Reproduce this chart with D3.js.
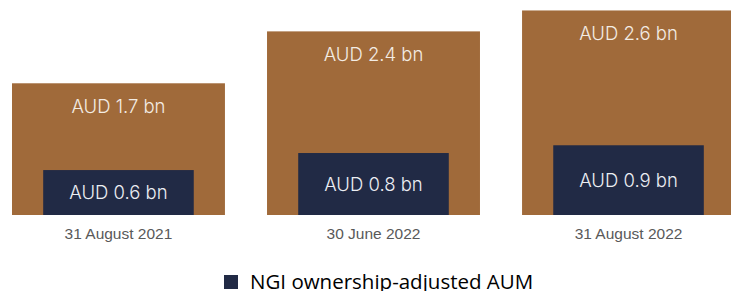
<!DOCTYPE html>
<html>
<head>
<meta charset="utf-8">
<title>AUM</title>
<script src="https://d3js.org/d3.v7.min.js"></script>
<style>
  body { margin: 0; background: #fff; }
  svg { display: block; }
</style>
</head>
<body>
<div id="chart"></div>
<script>
// data (bn AUD)
var categories = ["31 August 2021", "30 June 2022", "31 August 2022"];
var totalAUM = [1.70, 2.37, 2.64];
var adjustedAUM = [0.58, 0.80, 0.90];
var legendLabel = "NGI ownership-adjusted AUM";

var width = 731, height = 291;
var baseline = 215;
var brown = "#a06a3a", navy = "#212a45";

var svg = d3.select("#chart").append("svg")
  .attr("width", width)
  .attr("height", height);

var x = d3.scaleBand()
  .domain(categories)
  .range([12, 735])
  .paddingInner(0.165)
  .paddingOuter(0);

var y = d3.scaleLinear()
  .domain([0, 2.775])
  .range([baseline, 0]);

var innerW = x.bandwidth() * 0.707;
var fmt = v => "AUD " + v.toFixed(1) + " bn";

// big bars (total)
svg.selectAll(".total")
  .data(categories)
  .join("rect")
  .attr("class", "total")
  .attr("x", d => x(d))
  .attr("y", (d, i) => y(totalAUM[i]))
  .attr("width", x.bandwidth())
  .attr("height", (d, i) => y(0) - y(totalAUM[i]))
  .attr("fill", brown);

// inner bars (ownership-adjusted)
svg.selectAll(".adj")
  .data(categories)
  .join("rect")
  .attr("class", "adj")
  .attr("x", d => x(d) + (x.bandwidth() - innerW) / 2)
  .attr("y", (d, i) => y(adjustedAUM[i]))
  .attr("width", innerW)
  .attr("height", (d, i) => y(0) - y(adjustedAUM[i]))
  .attr("fill", navy);

var labelFont = "Inter, 'Liberation Sans', sans-serif";

svg.selectAll(".totalLabel")
  .data(categories)
  .join("text")
  .attr("class", "totalLabel")
  .attr("x", d => x(d) + x.bandwidth() / 2)
  .attr("y", (d, i) => y(totalAUM[i]) + 30)
  .attr("text-anchor", "middle")
  .style("font-family", labelFont)
  .style("font-weight", 300)
  .style("font-size", "18.5px")
  .attr("fill", "#f3ece4")
  .text((d, i) => fmt(totalAUM[i]));

svg.selectAll(".adjLabel")
  .data(categories)
  .join("text")
  .attr("class", "adjLabel")
  .attr("x", d => x(d) + x.bandwidth() / 2)
  .attr("y", (d, i) => (y(adjustedAUM[i]) + y(0)) / 2 + 6.5)
  .attr("text-anchor", "middle")
  .style("font-family", labelFont)
  .style("font-weight", 300)
  .style("font-size", "18.5px")
  .attr("fill", "#eceef3")
  .text((d, i) => fmt(adjustedAUM[i]));

// category axis (no line, only labels)
var xAxis = svg.append("g")
  .attr("transform", "translate(0," + baseline + ")")
  .call(d3.axisBottom(x).tickSize(0).tickPadding(13));
xAxis.select(".domain").remove();
xAxis.selectAll("text")
  .style("font-family", "'Liberation Sans', Arial, sans-serif")
  .style("font-size", "15.5px")
  .attr("fill", "#595959");

// legend
var legend = svg.append("g").attr("transform", "translate(224,275)");
legend.append("rect")
  .attr("width", 14)
  .attr("height", 14)
  .attr("fill", navy);
legend.append("text")
  .attr("x", 26)
  .attr("y", 14)
  .style("font-family", "'Open Sans', sans-serif")
  .style("font-size", "20.5px")
  .attr("fill", "#000")
  .text(legendLabel);
</script>
</body>
</html>
